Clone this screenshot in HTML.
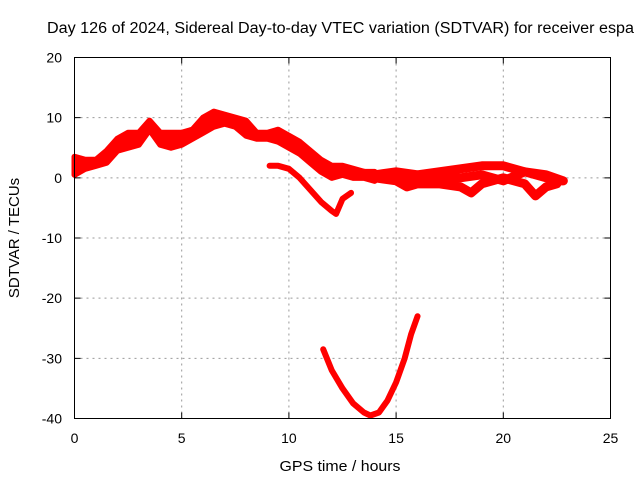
<!DOCTYPE html>
<html><head><meta charset="utf-8"><style>
body{margin:0;background:#fff}
svg{display:block;font-family:"Liberation Sans",sans-serif;font-size:14px}
</style></head><body>
<svg id="chart" width="640" height="480" viewBox="0 0 640 480">
<rect width="640" height="480" fill="#fff"/>
<text x="47" y="33" font-size="15.5" textLength="587" lengthAdjust="spacingAndGlyphs">Day 126 of 2024, Sidereal Day-to-day VTEC variation (SDTVAR) for receiver espa</text>
<g id="grid"></g>
<g id="series"></g>
<rect x="74.5" y="57.5" width="536" height="361" fill="none" stroke="#000" stroke-width="1"/>
<g id="ticks"></g>
<text x="340" y="471" text-anchor="middle" font-size="15" textLength="121" lengthAdjust="spacingAndGlyphs">GPS time / hours</text>
<text transform="translate(19,238) rotate(-90)" text-anchor="middle" font-size="15">SDTVAR / TECUs</text>
</svg>
<script>
const xTicks=[0,5,10,15,20,25];
const yTicks=[20,10,0,-10,-20,-30,-40];
const upperH=[0,0.5,1,1.5,2,2.5,3,3.5,4,4.5,5,5.5,6,6.5,7,7.5,8,8.5,9,9.5,10,10.5,11,11.5,12,12.5,13,13.5,14];
const upperV=[3.5,3,3,4.5,6.5,7.5,7.5,9.5,7.5,7.5,7.5,8,10,11,10.5,10,9.5,7.5,7.5,8,7,6,4.5,3,2,2,1.5,1,1];
const lowerV=[0.5,1.5,2,2.5,4.5,5,5.5,8,5.5,5,5.5,6.5,7.5,8.5,9,8.5,7,6.5,6.5,6,5,4,2.5,1,0,0.5,0,0,-0.5];
const trackAH=[13,14,15,16,17,18,19,20,21,22,22.7];
const trackAV=[1,0.5,1,0.5,1,1.5,2,2,1,0,-0.5];
const trackBH=[14,15,15.5,16,17,18,18.5,19,20,21,21.5,22,22.5];
const trackBV=[0,-0.5,-1.5,-1,-1,-1.5,-2.5,-1,0,-1,-3,-1.5,-1];
const trackCH=[14,15,16,17,18,19,20,21,22,22.8];
const trackCV=[0.5,0,0,0,0,0.5,-0.5,1,0.5,-0.5];
const s2H=[9.1,9.5,10,10.5,11,11.5,12,12.2,12.5,12.9];
const s2V=[2,2,1.5,0,-2,-4,-5.5,-6,-3.5,-2.5];
const s3H=[11.6,12,12.5,13,13.5,13.8,14.2,14.6,15,15.4,15.7,16];
const s3V=[-28.5,-32,-35,-37.5,-39,-39.5,-39,-37,-34,-30,-26,-23];
const X=h=>74.5+h*536/25, Y=v=>57.5+(20-v)*361/60;
const NS="http://www.w3.org/2000/svg";
function mk(tag,attrs,parent){const e=document.createElementNS(NS,tag);for(const k in attrs)e.setAttribute(k,attrs[k]);parent.appendChild(e);return e;}
const grid=document.getElementById('grid'),ticks=document.getElementById('ticks'),ser=document.getElementById('series');
xTicks.forEach(t=>{
 if(t>0&&t<25){const l=mk('line',{x1:X(t),x2:X(t),y1:57.5,y2:418.5,stroke:'#999','stroke-dasharray':'2,4'},grid);
 
 }
 const tk=mk('path',{d:`M${X(t)},418.5v-6M${X(t)},57.5v6`,stroke:'#000'},ticks);
 
 
 const tx=mk('text',{x:X(t),y:443,'text-anchor':'middle'},ticks);tx.textContent=t;
 
 
});
yTicks.forEach(t=>{
 if(t<20&&t>-40){const l=mk('line',{x1:74.5,x2:610.5,y1:Y(t),y2:Y(t),stroke:'#999','stroke-dasharray':'2,4'},grid);
 
 }
 const tk=mk('path',{d:`M74.5,${Y(t)}h6M610.5,${Y(t)}h-6`,stroke:'#000'},ticks);
 
 
 const tx=mk('text',{x:62,y:Y(t)+5,'text-anchor':'end'},ticks);tx.textContent=t;
 
 
});
const pts=(H,V)=>H.map((h,i)=>X(h)+','+Y(V[i])).join(' ');
const band=mk('polygon',{points:pts(upperH,upperV)+' '+pts(upperH.slice().reverse(),lowerV.slice().reverse()),fill:'#f00',stroke:'#f00','stroke-width':6,'stroke-linejoin':'round'},ser);


[[trackAH,trackAV,'track-a'],[trackBH,trackBV,'track-b'],[trackCH,trackCV,'track-c'],[s2H,s2V,'series-2'],[s3H,s3V,'series-3']].forEach(([H,V,n])=>{
 const p=mk('polyline',{points:pts(H,V),fill:'none',stroke:'#f00','stroke-width':n.startsWith('track')?9:6,'stroke-linejoin':'round','stroke-linecap':'round'},ser);
 
 
});
</script>
</body></html>
